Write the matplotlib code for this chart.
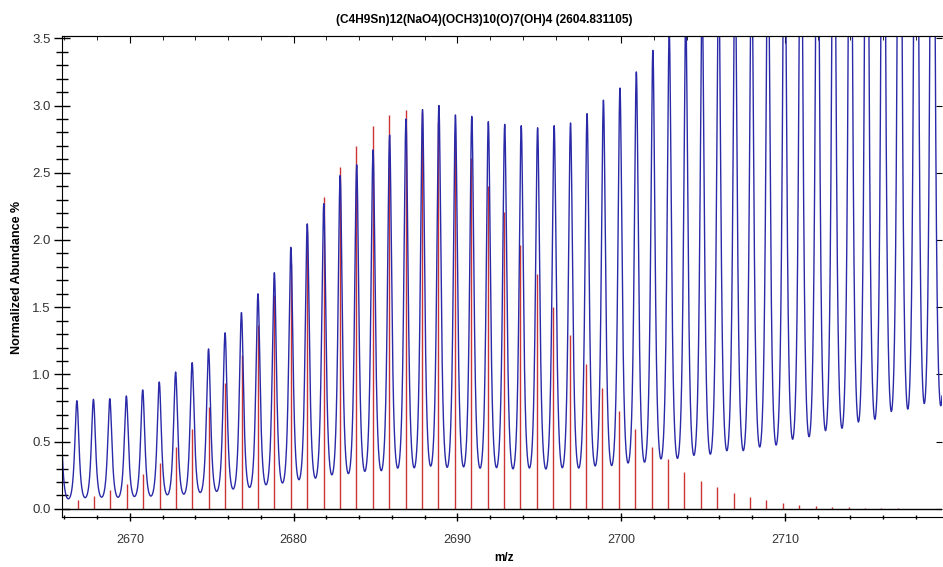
import numpy as np
import matplotlib
matplotlib.use('Agg')
import matplotlib.pyplot as plt
from matplotlib.ticker import MultipleLocator

plt.rcParams['font.family'] = ['Liberation Sans', 'DejaVu Sans']

# theoretical isotope pattern (red sticks)
theo_mz = [2666.80, 2667.80, 2668.80, 2669.81, 2670.81, 2671.81, 2672.81, 2673.81,
           2674.82, 2675.82, 2676.82, 2677.82, 2678.82, 2679.83, 2680.83, 2681.83,
           2682.83, 2683.83, 2684.84, 2685.84, 2686.84, 2687.84, 2688.84, 2689.85,
           2690.85, 2691.85, 2692.85, 2693.85, 2694.86, 2695.86, 2696.86, 2697.86,
           2698.86, 2699.87, 2700.87, 2701.87, 2702.87, 2703.87, 2704.88, 2705.88,
           2706.88, 2707.88, 2708.88, 2709.89, 2710.89, 2711.89, 2712.89, 2713.89,
           2714.90, 2715.90, 2716.90, 2717.90, 2718.90]
theo_ab = [0.067, 0.097, 0.141, 0.186, 0.26, 0.344, 0.463, 0.592,
           0.758, 0.939, 1.145, 1.368, 1.59, 1.83, 2.07, 2.32,
           2.54, 2.70, 2.85, 2.93, 2.97, 2.95, 2.88, 2.76,
           2.61, 2.40, 2.21, 1.96, 1.75, 1.50, 1.29, 1.08,
           0.90, 0.73, 0.593, 0.463, 0.37, 0.277, 0.21, 0.161,
           0.121, 0.092, 0.067, 0.045, 0.030, 0.022, 0.015, 0.011,
           0.008, 0.005, 0.004, 0.003, 0.002]

# measured spectrum (blue profile): peak centres and apex heights
meas_mz = [2665.72, 2666.76, 2667.77, 2668.77, 2669.78, 2670.78, 2671.79, 2672.79,
           2673.80, 2674.80, 2675.81, 2676.81, 2677.82, 2678.82, 2679.83, 2680.83,
           2681.84, 2682.84, 2683.85, 2684.85, 2685.86, 2686.86, 2687.87, 2688.87,
           2689.88, 2690.88, 2691.89, 2692.89, 2693.90, 2694.90, 2695.91, 2696.91,
           2697.92, 2698.92, 2699.93, 2700.93, 2701.94, 2702.94, 2703.95, 2704.95,
           2705.96, 2706.96, 2707.97, 2708.97, 2709.98, 2710.98, 2711.99, 2712.99,
           2714.00, 2715.00, 2716.01, 2717.01, 2718.02, 2719.02, 2720.03]
meas_top = [0.78, 0.805, 0.815, 0.82, 0.84, 0.885, 0.944, 1.018,
            1.088, 1.19, 1.31, 1.46, 1.60, 1.757, 1.946, 2.12,
            2.27, 2.48, 2.56, 2.67, 2.78, 2.90, 2.97, 3.00,
            2.93, 2.92, 2.88, 2.86, 2.85, 2.835, 2.85, 2.87,
            2.94, 3.04, 3.13, 3.25, 3.41, 3.55, 3.65, 3.8,
            4.0, 4.1, 4.2, 4.4, 4.7, 5.0, 5.3, 5.6,
            5.9, 6.2, 6.6, 7.0, 7.3, 7.5, 7.6]

xmin, xmax = 2665.85, 2719.6
a = 0.2  # peak shape width (Da)


def shape(d):
    return (1 + (d / a)**2)**-1.5


pk = np.array(meas_mz)
amp = np.linalg.solve(shape(pk[:, None] - pk[None, :]), np.array(meas_top))
mz = np.linspace(xmin, xmax, 9000)
prof = (amp[None, :] * shape(mz[:, None] - pk[None, :])).sum(axis=1)

fig = plt.figure(figsize=(9.43, 5.67), dpi=100)
ax = fig.add_axes([62/943, 1-517/567, 880/943, (517-36)/567])

ax.vlines(theo_mz, 0, theo_ab, color='#cc3333', lw=1.0)
ax.plot(mz, prof, color='#2a2aa8', lw=1.0)
ax.axhline(0, color='black', lw=1.0)

ax.set_xlim(xmin, xmax)
ax.set_ylim(-0.06, 3.517)

ax.xaxis.set_major_locator(MultipleLocator(10))
ax.xaxis.set_minor_locator(MultipleLocator(2))
ax.yaxis.set_major_locator(MultipleLocator(0.5))
ax.yaxis.set_minor_locator(MultipleLocator(0.1))
ax.yaxis.set_major_formatter(plt.FormatStrFormatter('%.1f'))
ax.tick_params(axis='x', which='major', direction='inout', length=6, width=1,
               labelsize=9, labelcolor='#333333', pad=9)
ax.tick_params(axis='x', which='minor', direction='inout', length=3.5, width=1)
ax.tick_params(axis='y', which='major', direction='inout', length=12, width=1,
               labelsize=9.5, labelcolor='#333333', pad=2)
ax.tick_params(axis='y', which='minor', direction='inout', length=8, width=1)
ax.spines['right'].set_visible(False)

top = ax.secondary_xaxis('top')
top.xaxis.set_major_locator(MultipleLocator(10))
top.xaxis.set_minor_locator(MultipleLocator(2))
top.tick_params(which='major', direction='in', length=5, labeltop=False)
top.tick_params(which='minor', direction='in', length=3)
top.spines['top'].set_color('#555555')

right = ax.secondary_yaxis('right')
right.yaxis.set_major_locator(MultipleLocator(0.5))
right.tick_params(direction='in', length=4, labelright=False)
right.spines['right'].set_visible(False)

fig.text(484/943, 1-20/567, '(C4H9Sn)12(NaO4)(OCH3)10(O)7(OH)4 (2604.831105)',
         ha='center', va='center', fontsize=8.6, fontweight='bold')
fig.text(17/943, 1-277/567, 'Normalized Abundance %', rotation=90,
         ha='center', va='center', fontsize=9, fontweight='bold')
fig.text(504/943, 1-558/567, 'm/z', ha='center', va='center',
         fontsize=8.5, fontweight='bold')

fig.savefig('out.png', dpi=100)
